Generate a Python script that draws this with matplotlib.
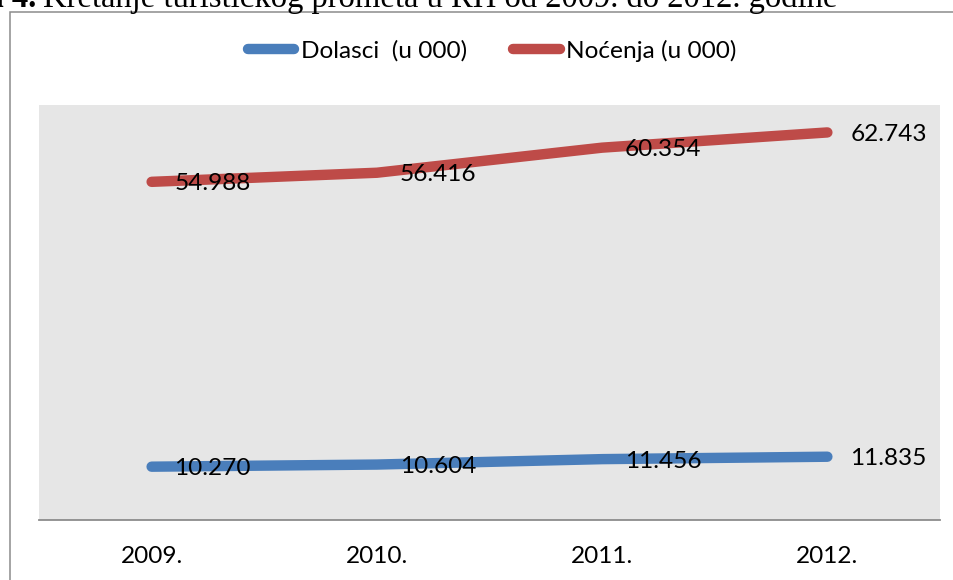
import matplotlib
matplotlib.use("Agg")
import matplotlib.pyplot as plt
from matplotlib.patches import Rectangle

# podaci - turistički promet u RH (u 000)
godine = ['2009.', '2010.', '2011.', '2012.']
dolasci = [10.270, 10.604, 11.456, 11.835]
nocenja = [54.988, 56.416, 60.354, 62.743]
oznake_dolasci = ['10.270', '10.604', '11.456', '11.835']
oznake_nocenja = ['54.988', '56.416', '60.354', '62.743']

plava = '#4a7ebb'
crvena = '#be4b48'

plt.rcParams['font.family'] = ['Lato', 'DejaVu Sans']
fs = 17.6

W, H = 954, 580
fig = plt.figure(figsize=(W / 100, H / 100), dpi=100)

# okvir grafikona (odrezan desno i dolje)
fig.patches.append(Rectangle((10 / W, -0.1), 1.2, (H - 12) / H + 0.1,
                             transform=fig.transFigure, fill=False,
                             edgecolor='#8c8c8c', linewidth=1.1))

# naslov, odrezan na vrhu slike
fig.text(43 / W, (H - 7) / H, 'Kretanje turističkog prometa u RH od 2009. do 2012. godine',
         family='Liberation Serif', fontsize=23.5, ha='left', va='baseline')
fig.text(36 / W, (H - 7) / H, 'Slika 4.', family='Liberation Serif',
         fontweight='bold', fontsize=23.5, ha='right', va='baseline')

ax = fig.add_axes([39 / W, (H - 520) / H, (940 - 39) / W, (520 - 105) / H])
ax.set_facecolor('#e6e6e6')

x = range(len(godine))
ax.plot(x, dolasci, color=plava, lw=7.5, solid_capstyle='round', label='Dolasci  (u 000)')
ax.plot(x, nocenja, color=crvena, lw=7.5, solid_capstyle='round', label='Noćenja (u 000)')

for i in x:
    ax.annotate(oznake_dolasci[i], (i, dolasci[i]), xytext=(16.5, 0), textcoords='offset points',
                ha='left', va='center_baseline', fontsize=fs)
    ax.annotate(oznake_nocenja[i], (i, nocenja[i]), xytext=(16.5, 0), textcoords='offset points',
                ha='left', va='center_baseline', fontsize=fs)

ax.set_xlim(-0.5, 3.5)
ax.set_ylim(1.9, 67.05)
ax.set_xticks(list(x))
ax.set_xticklabels(godine, fontsize=fs)
ax.set_yticks([])
ax.tick_params(axis='x', length=0, pad=19)
for s in ['top', 'left', 'right']:
    ax.spines[s].set_visible(False)
ax.spines['bottom'].set_color('#8c8c8c')
ax.spines['bottom'].set_linewidth(1.3)

fig.legend(loc='center', bbox_to_anchor=(492 / W, (H - 51) / H), ncol=2, frameon=False,
           fontsize=fs, handlelength=1.9, handletextpad=0.25, columnspacing=1.9)

fig.savefig('out.png', dpi=100)
